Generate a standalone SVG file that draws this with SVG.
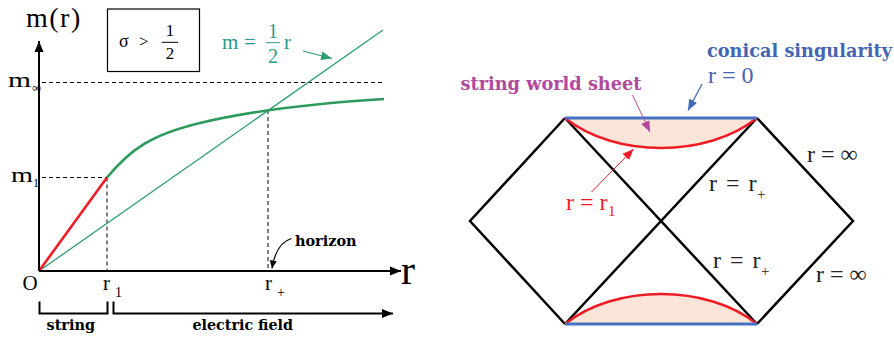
<svg xmlns="http://www.w3.org/2000/svg" width="894" height="338" viewBox="0 0 894 338">
<style>
.math{font-family:"Liberation Serif","Times New Roman",serif;}
.bold{font-family:"DejaVu Serif",serif;font-weight:bold;}
.dash{stroke:#000;stroke-width:1;stroke-dasharray:4,3;fill:none;}
.pen{stroke:#000;stroke-width:2.5;fill:none;stroke-linejoin:miter;}
.gray{fill:#222;}
</style>
<defs>
<marker id="ah" markerUnits="userSpaceOnUse" markerWidth="12" markerHeight="10" refX="11" refY="5" orient="auto"><path d="M0,0.5 L11,5 L0,9.5 Z" fill="#000"/></marker>
<marker id="ahs" markerUnits="userSpaceOnUse" markerWidth="9" markerHeight="8" refX="8" refY="4" orient="auto"><path d="M0,0.5 L8,4 L0,7.5 Z" fill="#000"/></marker>
<marker id="ahr" markerUnits="userSpaceOnUse" markerWidth="12" markerHeight="10" refX="11" refY="5" orient="auto"><path d="M0,0.5 L11,5 L0,9.5 Z" fill="#ee1c25"/></marker>
<marker id="ahb" markerUnits="userSpaceOnUse" markerWidth="12" markerHeight="10" refX="11" refY="5" orient="auto"><path d="M0,0.5 L11,5 L0,9.5 Z" fill="#4468b4"/></marker>
<marker id="ahm" markerUnits="userSpaceOnUse" markerWidth="12" markerHeight="10" refX="11" refY="5" orient="auto"><path d="M0,0.5 L11,5 L0,9.5 Z" fill="#b04a9c"/></marker>
<marker id="ahg" markerUnits="userSpaceOnUse" markerWidth="12" markerHeight="10" refX="11" refY="5" orient="auto"><path d="M0,0.5 L11,5 L0,9.5 Z" fill="#2e9e6e"/></marker>
</defs>
<rect width="894" height="338" fill="#fff"/>

<!-- Left: plot of m(r) -->
<g id="plot-guides">
<line class="dash" x1="42" y1="82.5" x2="384" y2="82.5"/>
<line class="dash" x1="42" y1="177.5" x2="107" y2="177.5"/>
<line class="dash" x1="107" y1="177.5" x2="107" y2="271"/>
<line class="dash" x1="268" y1="110" x2="268" y2="271"/>
</g>
<g id="plot-curves">
<line x1="39" y1="271" x2="383" y2="30" stroke="#2e9e6e" stroke-width="1.3"/>
<line x1="39" y1="271" x2="107" y2="177.5" stroke="#ee1c25" stroke-width="2.6"/>
<path d="M107,177.5 C130,150 150,135 200,123 S320,103 384,99" fill="none" stroke="#2e9a5e" stroke-width="2.6"/>
</g>
<g id="plot-axes">
<line x1="39" y1="271" x2="39" y2="41" stroke="#000" stroke-width="2" marker-end="url(#ah)"/>
<line x1="39" y1="271" x2="401" y2="271" stroke="#000" stroke-width="2" marker-end="url(#ah)"/>
<text class="math" x="26" y="27" font-size="28" letter-spacing="1.5">m(r)</text>
<text class="math" x="401" y="284" font-size="42">r</text>
<text class="math" x="22.5" y="290" font-size="21">O</text>
<text class="math" x="103" y="290" font-size="21">r</text>
<text class="math" x="115" y="297" font-size="14">1</text>
<text class="math" x="265" y="290" font-size="21">r</text>
<text class="math" x="277" y="297" font-size="14">+</text>
<text class="math" x="8" y="87" font-size="21" textLength="23" lengthAdjust="spacingAndGlyphs">m</text>
<text class="math" x="32" y="92" font-size="13">∞</text>
<text class="math" x="11" y="182" font-size="21" textLength="22" lengthAdjust="spacingAndGlyphs">m</text>
<text class="math" x="33" y="187" font-size="12">1</text>
</g>
<g id="sigma-box">
<rect x="107.5" y="9" width="92" height="62.5" fill="none" stroke="#000" stroke-width="1.2"/>
<text class="math" x="119" y="47" font-size="18">σ</text>
<text class="math" x="139" y="47" font-size="17">&gt;</text>
<text class="math" x="170" y="36" font-size="17" text-anchor="middle">1</text>
<line x1="162" y1="42.3" x2="178" y2="42.3" stroke="#000" stroke-width="1"/>
<text class="math" x="170" y="59" font-size="17" text-anchor="middle">2</text>
</g>
<g id="line-label" fill="#2a9a8c">
<text class="math" x="222" y="49" font-size="21">m</text>
<text class="math" x="244" y="49" font-size="21">=</text>
<text class="math" x="273" y="38" font-size="20" text-anchor="middle">1</text>
<line x1="266" y1="42.7" x2="280" y2="42.7" stroke="#2a9a8c" stroke-width="1"/>
<text class="math" x="273" y="63" font-size="20" text-anchor="middle">2</text>
<text class="math" x="284" y="49" font-size="21">r</text>
</g>
<g id="horizon-label">
<text class="bold" x="295" y="246" font-size="14.5" textLength="61.5" lengthAdjust="spacingAndGlyphs">horizon</text>
</g>
<g id="regions">
<path d="M39.5,301.5 V313.5 H107.5 V301.5" fill="none" stroke="#000" stroke-width="2"/>
<text class="bold" x="46.5" y="330" font-size="14.5" textLength="48.5" lengthAdjust="spacingAndGlyphs">string</text>
<text class="bold" x="192.5" y="330" font-size="14.5" textLength="100.5" lengthAdjust="spacingAndGlyphs">electric field</text>
</g>

<!-- Right: Penrose diagram -->
<g id="world-sheets">
<path d="M565,118 C615,158 707,158 757,118 Z" fill="#fbe4d8"/>
<path d="M565,324 C615,284 707,284 757,324 Z" fill="#fbe4d8"/>
</g>
<g id="penrose">
<path class="pen" d="M565,118 L470,221 L565,324"/>
<path class="pen" d="M757,118 L853,221 L757,324"/>
<path class="pen" d="M565,118 L757,324"/>
<path class="pen" d="M757,118 L565,324"/>
</g>
<g id="sheet-curves">
<path d="M565,118 C615,158 707,158 757,118" fill="none" stroke="#ee1c25" stroke-width="2.5"/>
<path d="M565,324 C615,284 707,284 757,324" fill="none" stroke="#ee1c25" stroke-width="2.5"/>
<line x1="565" y1="118" x2="757" y2="118" stroke="#4472c4" stroke-width="2.8"/>
<line x1="565" y1="324" x2="757" y2="324" stroke="#4472c4" stroke-width="2.8"/>
</g>
<g id="penrose-labels">
<text class="bold" x="707" y="57" font-size="18" fill="#4565b0" textLength="185" lengthAdjust="spacingAndGlyphs">conical singularity</text>
<text class="math" x="708" y="83" font-size="24" fill="#4565b0">r = 0</text>
<text class="bold" x="460.5" y="90" font-size="18" fill="#b04a9c" textLength="181" lengthAdjust="spacingAndGlyphs">string world sheet</text>
<text class="math" x="566" y="210" font-size="24" fill="#ee1c25">r = r</text>
<text class="math" x="608" y="216" font-size="15" fill="#ee1c25">1</text>
<text class="math gray" x="709" y="191" font-size="24" word-spacing="3">r = r</text>
<text class="math gray" x="757" y="199" font-size="15">+</text>
<text class="math gray" x="807" y="161.5" font-size="24">r = ∞</text>
<text class="math gray" x="713" y="268" font-size="24" word-spacing="3">r = r</text>
<text class="math gray" x="761" y="276" font-size="15">+</text>
<text class="math gray" x="816" y="281.5" font-size="24">r = ∞</text>
</g>

<g id="connectors">
<path d="M113.5,301.5 V313.5 H393" fill="none" stroke="#000" stroke-width="2" marker-end="url(#ah)"/>
<path d="M291.5,238.5 Q276,243 272,268.5" fill="none" stroke="#000" stroke-width="1.2" marker-end="url(#ahs)"/>
<line x1="303" y1="51" x2="332" y2="58.5" stroke="#2e9e6e" stroke-width="1.2" marker-end="url(#ahg)"/>
<line x1="702" y1="84" x2="688" y2="110.5" stroke="#4468b4" stroke-width="1.3" marker-end="url(#ahb)"/>
<line x1="632.5" y1="95" x2="650" y2="132" stroke="#b04a9c" stroke-width="1" marker-end="url(#ahm)"/>
<line x1="591.5" y1="192" x2="633.5" y2="149" stroke="#ee1c25" stroke-width="1" marker-end="url(#ahr)"/>
</g>
</svg>
